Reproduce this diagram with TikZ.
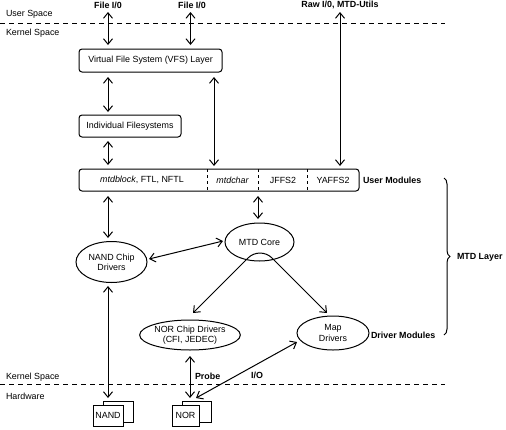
\documentclass[tikz,border=0pt]{standalone}
\usepackage{fontspec}
\setmainfont{Liberation Sans}
\usetikzlibrary{arrows.meta,decorations.pathreplacing,shapes.geometric}
\begin{document}
\begin{tikzpicture}[x=1pt,y=-1pt,
  font=\fontsize{8.9}{10.2}\selectfont,
  every node/.style={inner sep=0pt,outer sep=0pt},
  box/.style={draw,line width=1pt,rounded corners=3pt,align=center},
  ell/.style={draw,line width=1pt,ellipse,align=center},
  chip/.style={draw,line width=1pt,fill=white,align=center},
  lbl/.style={font=\fontsize{8.9}{10.2}\selectfont\bfseries},
  plain/.style={},
  sep/.style={line width=0.9pt,dash pattern=on 5pt off 4pt},
  div/.style={line width=0.9pt,dash pattern=on 3pt off 3pt},
  dbl/.style={line width=1pt,{Straight Barb[length=5.5pt,width=9pt]}-{Straight Barb[length=5.5pt,width=9pt]}}
]
\useasboundingbox (0,0) rectangle (506,429);

% separators
\coordinate (s1a) at (0,23); \coordinate (s1b) at (445,23);
\coordinate (s2a) at (0,384); \coordinate (s2b) at (445,384);
\draw[sep] (s1a) -- (s1b);
\draw[sep] (s2a) -- (s2b);
\node[plain,anchor=west] (us) at (6,14) {User Space};
\node[plain,anchor=west] (ks1) at (6,33) {Kernel Space};
\node[plain,anchor=west] (ks2) at (6,377) {Kernel Space};
\node[plain,anchor=west] (hw) at (6,396) {Hardware};

% top labels
\node[lbl] (fio1) at (108,5) {File I/0};
\node[lbl] (fio2) at (192,5) {File I/0};
\node[lbl] (raw) at (340,5) {Raw I/0, MTD-Utils};

% boxes
\node[box,minimum width=143pt,minimum height=23pt] (vfs) at (150.5,60.5) {Virtual File System (VFS) Layer};
\node[box,minimum width=102pt,minimum height=22pt] (ifs) at (130,126) {Individual Filesystems};
\node[box,minimum width=280pt,minimum height=22pt] (um) at (219,180) {};
\node (t1) at (142,180) {\itshape mtdblock\upshape, FTL, NFTL};
\node (t2) at (232.5,180) {\itshape mtdchar};
\node (t3) at (283,180) {JFFS2};
\node (t4) at (333,180) {YAFFS2};
\coordinate (d1a) at (207,169); \coordinate (d1b) at (207,191);
\coordinate (d2a) at (258,169); \coordinate (d2b) at (258,191);
\coordinate (d3a) at (307,169); \coordinate (d3b) at (307,191);
\draw[div] (d1a) -- (d1b);
\draw[div] (d2a) -- (d2b);
\draw[div] (d3a) -- (d3b);
\node[lbl,anchor=west] (uml) at (363,180) {User Modules};

% ellipses
\node[ell,minimum width=71pt,minimum height=41pt] (nand) at (111.5,262) {NAND Chip\\Drivers};
\node[ell,minimum width=69pt,minimum height=38pt] (core) at (259.5,242) {MTD Core};
\node[ell,minimum width=94pt,minimum height=30pt] (nor) at (190,335) {NOR Chip Drivers\\(CFI, JEDEC)};
\node[ell,minimum width=72pt,minimum height=34pt] (map) at (333,333) {Map\\Drivers};
\node[lbl,anchor=west] (dml) at (371,335) {Driver Modules};

% chips
\node[chip,minimum width=30pt,minimum height=21pt] (nandb) at (118,411.5) {};
\node[chip,minimum width=30pt,minimum height=21pt] (nandf) at (108,415.5) {NAND};
\node[chip,minimum width=29pt,minimum height=21pt] (norb) at (196.5,411.5) {};
\node[chip,minimum width=27pt,minimum height=21pt] (norf) at (185.5,415.5) {NOR};

% brace
\coordinate (b1) at (444,178); \coordinate (b2) at (444,335);
\draw[line width=1pt,decorate,decoration={brace,amplitude=6pt}] (b1) -- (b2);
\node[lbl,anchor=west] (mtdl) at (457,257) {MTD Layer};

% arrows
\draw[dbl] (108,12) -- (108,45);
\draw[dbl] (190.5,12) -- (190.5,45);
\draw[dbl] (108,77) -- (108,112);
\draw[dbl] (214,77) -- (214,166);
\draw[dbl] (340,12) -- (340,166);
\draw[dbl] (108,141) -- (108,165);
\draw[dbl] (108,196) -- (108,238);
\draw[dbl] (258,196) -- (258,219);
\draw[dbl] (149,259) -- (223,241);
\draw[dbl,rounded corners=17pt] (193,313) -- (260,246) -- (327,313);
\draw[dbl] (108,286) -- (108,398);
\draw[dbl] (190,356) -- (190,398);
\draw[dbl] (196,398) -- (297,342);
\node[lbl,anchor=west] (probe) at (195,376) {Probe};
\node[lbl] (io) at (257,375) {I/O};
\end{tikzpicture}
\end{document}
